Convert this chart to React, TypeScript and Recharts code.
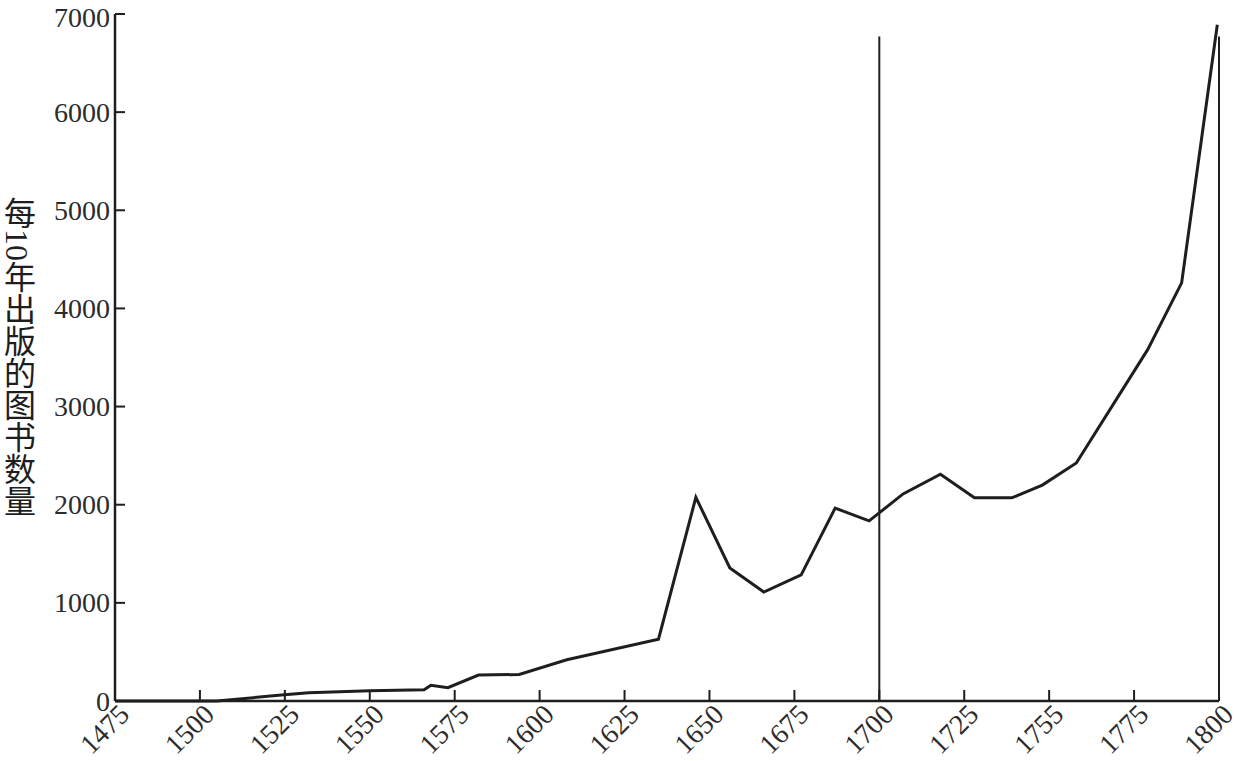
import React from "react";
import {
  LineChart,
  Line,
  XAxis,
  YAxis,
  ReferenceLine,
} from "recharts";

// years (x) and books published per decade (y)
const YEARS = [
  1475, 1500, 1505, 1524, 1532, 1550, 1566, 1568, 1573, 1582, 1594, 1608,
  1635, 1646, 1656, 1666, 1677, 1687, 1697, 1707, 1718, 1728, 1739, 1748,
  1758, 1779, 1789, 1799.5,
];
const BOOKS = [
  0, 0, 0, 60, 85, 105, 115, 160, 135, 265, 270, 420,
  630, 2075, 1355, 1110, 1285, 1965, 1835, 2110, 2310, 2070, 2070, 2200,
  2425, 3580, 4260, 6890,
];

const X_TICKS = [1475, 1500, 1525, 1550, 1575, 1600, 1625, 1650, 1675, 1700, 1725, 1750, 1775, 1800];
// the original prints "1755" under the 1750 tick
const X_LABELS = ["1475", "1500", "1525", "1550", "1575", "1600", "1625", "1650", "1675", "1700", "1725", "1755", "1775", "1800"];
const Y_TICKS = [0, 1000, 2000, 3000, 4000, 5000, 6000, 7000];

const MARKER_YEARS = [1700, 1800];
const MARKER_TOP = 6770;

const Y_TITLE = "每10年出版的图书数量";

const data = YEARS.map((year, i) => ({ year, books: BOOKS[i] }));

const INK = "#1e1e1e";
const TEXT = "#2c2c2c";
const FONT = '"Liberation Serif", "DejaVu Serif", "Noto Sans CJK SC", serif';

const XTick = (props: any) => {
  const { x, y, payload } = props;
  const idx = X_TICKS.indexOf(payload.value);
  const tx = x + 16;
  const ty = y + 15;
  return (
    <g>
      <line x1={x} x2={x} y1={y} y2={y - 11} stroke={INK} strokeWidth={2} />
      <text
        x={tx}
        y={ty}
        transform={`rotate(-45, ${tx}, ${ty})`}
        textAnchor="end"
        fontSize={28}
        fontFamily={FONT}
        fill={TEXT}
      >
        {X_LABELS[idx] ?? payload.value}
      </text>
    </g>
  );
};

const YTick = (props: any) => {
  const { x, y, payload } = props;
  // keep the top label inside the picture
  const ly = y < 20 ? y + 3 : y;
  return (
    <g>
      <line x1={x} x2={x + 10} y1={y} y2={y} stroke={INK} strokeWidth={2} />
      <text
        x={x - 5}
        y={ly}
        textAnchor="end"
        dominantBaseline="central"
        fontSize={28}
        fontFamily={FONT}
        fill={TEXT}
      >
        {payload.value}
      </text>
    </g>
  );
};

const YTitle = () => (
  <text
    x={17}
    y={197}
    fontSize={32}
    fontFamily={FONT}
    fill={INK}
    style={{ writingMode: "vertical-rl" } as any}
  >
    {Y_TITLE}
  </text>
);

export default function App() {
  return (
    <div style={{ position: "absolute", left: 0, top: 0, background: "#fff" }}>
      <LineChart
        width={1241}
        height={761}
        data={data}
        margin={{ top: 14, right: 22, left: 0, bottom: 0 }}
      >
        <XAxis
          dataKey="year"
          type="number"
          domain={[1475, 1800]}
          ticks={X_TICKS}
          interval={0}
          height={60}
          tickSize={0}
          tickMargin={0}
          tickLine={false}
          axisLine={{ stroke: INK, strokeWidth: 2.5 }}
          tick={<XTick />}
          allowDataOverflow
        />
        <YAxis
          type="number"
          domain={[0, 7000]}
          ticks={Y_TICKS}
          interval={0}
          width={115}
          tickSize={0}
          tickMargin={0}
          tickLine={false}
          axisLine={{ stroke: INK, strokeWidth: 2.5 }}
          tick={<YTick />}
          label={{ content: () => <YTitle /> }}
        />
        {MARKER_YEARS.map((yr) => (
          <ReferenceLine
            key={yr}
            segment={[
              { x: yr, y: 0 },
              { x: yr, y: MARKER_TOP },
            ]}
            stroke={INK}
            strokeWidth={2}
            ifOverflow="visible"
          />
        ))}
        <Line
          type="linear"
          dataKey="books"
          stroke={INK}
          strokeWidth={3}
          dot={false}
          activeDot={false}
          isAnimationActive={false}
        />
      </LineChart>
    </div>
  );
}
